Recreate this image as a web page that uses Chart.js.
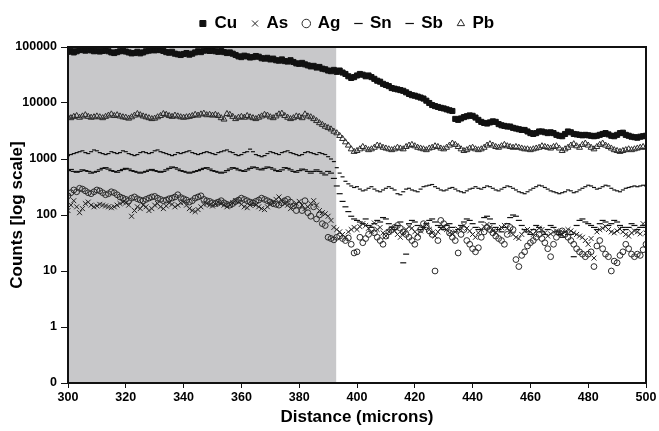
<!DOCTYPE html>
<html>
<head>
<meta charset="utf-8">
<script src="https://cdn.jsdelivr.net/npm/chart.js@4/dist/chart.umd.min.js"></script>
<style>
  html, body { margin: 0; padding: 0; background: #ffffff; }
  #wrap { width: 659px; height: 431px; position: relative; }
</style>
</head>
<body>
<div id="wrap"><canvas id="c" width="659" height="431"></canvas></div>
<script>
// ---------- DATA ----------
const DISTANCE = [
  300,301,302,303,304,305,306,307,308,309,
  310,311,312,313,314,315,316,317,318,319,
  320,321,322,323,324,325,326,327,328,329,
  330,331,332,333,334,335,336,337,338,339,
  340,341,342,343,344,345,346,347,348,349,
  350,351,352,353,354,355,356,357,358,359,
  360,361,362,363,364,365,366,367,368,369,
  370,371,372,373,374,375,376,377,378,379,
  380,381,382,383,384,385,386,387,388,389,
  390,391,392,393,394,395,396,397,398,399,
  400,401,402,403,404,405,406,407,408,409,
  410,411,412,413,414,415,416,417,418,419,
  420,421,422,423,424,425,426,427,428,429,
  430,431,432,433,434,435,436,437,438,439,
  440,441,442,443,444,445,446,447,448,449,
  450,451,452,453,454,455,456,457,458,459,
  460,461,462,463,464,465,466,467,468,469,
  470,471,472,473,474,475,476,477,478,479,
  480,481,482,483,484,485,486,487,488,489,
  490,491,492,493,494,495,496,497,498,499,
  500
];

const CU = [
  82000,85000,80000,84000,88000,90000,86000,91000,87000,84000,
  86000,83000,85000,88000,84000,80000,78000,81000,84000,86000,
  83000,80000,77000,78000,82000,77000,80000,84000,86000,89000,
  87000,90000,88000,85000,81000,79000,82000,76000,74000,72000,
  75000,78000,73000,76000,80000,84000,81000,86000,88000,85000,
  87000,84000,82000,85000,81000,78000,80000,76000,72000,68000,
  66000,70000,68000,65000,66000,69000,67000,63000,62000,64000,
  60000,62000,58000,57000,60000,56000,55000,58000,54000,51000,
  50000,52000,49000,47000,45000,46000,43000,44000,41000,40000,
  38000,37000,39000,36000,38000,35000,33000,30000,28000,29000,
  31000,33000,32000,30000,31000,29000,27000,25000,24000,22000,
  21000,20000,18500,18000,17500,17000,16500,15500,14500,13800,
  13500,13000,12500,12000,11000,10000,9200,8800,8500,8200,
  8000,7700,7400,7200,5200,5000,5300,5600,5800,6000,
  5900,5500,5000,4600,4400,4300,4500,4700,4600,4200,
  4000,3900,3800,3800,3600,3500,3400,3300,3300,3100,
  2900,2800,2900,3100,3100,3000,2900,3000,2900,2700,
  2600,2550,2800,3100,3000,2800,2750,2700,2650,2700,
  2650,2600,2550,2600,2700,2800,2900,2750,2600,2550,
  2700,2900,2950,2700,2600,2500,2450,2400,2500,2550,
  2600
];

const AS = [
  120,150,180,140,110,130,160,170,150,140,
  145,155,150,145,140,135,140,150,160,170,
  165,150,95,120,140,130,150,140,120,130,
  150,160,140,130,145,165,155,140,150,165,
  170,150,130,120,115,125,140,155,160,150,
  145,155,170,160,150,140,150,165,180,170,
  155,140,135,150,160,150,140,130,125,140,
  155,170,190,210,180,160,150,130,145,160,
  175,150,130,140,160,180,150,120,110,105,
  95,80,60,55,50,45,40,50,55,60,
  55,62,70,65,58,50,72,55,60,48,
  42,50,58,52,45,40,48,55,62,58,
  50,45,52,60,68,55,48,42,50,58,
  62,55,48,45,50,56,60,65,58,52,
  45,40,48,55,62,68,60,52,48,55,
  60,65,58,50,45,40,38,45,52,55,
  50,45,52,58,55,48,42,46,50,52,
  48,45,50,55,52,48,45,42,40,35,
  30,38,17,50,55,58,62,55,50,48,
  52,56,50,45,42,48,52,50,46,70,
  48
];

const AG = [
  220,250,280,260,300,290,270,250,240,260,
  280,270,250,230,240,260,250,230,210,200,
  190,180,200,210,195,185,180,190,200,210,
  215,200,190,180,185,195,200,210,230,205,
  195,185,170,180,200,210,220,190,180,175,
  165,160,170,180,165,155,150,160,175,185,
  200,190,180,170,165,175,185,200,190,180,
  170,160,155,150,165,180,190,170,145,120,
  150,120,180,110,95,140,85,100,70,65,
  40,38,36,40,42,38,35,39,30,21,
  22,40,32,38,45,55,48,40,35,30,
  42,50,55,60,65,58,50,45,40,35,
  30,40,55,70,62,52,45,10,35,80,
  70,60,48,40,35,21,45,55,35,30,
  25,22,26,40,50,60,55,48,42,38,
  35,30,45,60,55,16,12,19,22,28,
  32,35,40,45,38,32,25,18,30,40,
  48,52,45,40,35,30,25,22,20,18,
  20,22,12,28,35,25,20,18,10,15,
  14,19,22,30,25,20,18,20,19,24,
  30
];

const SN = [
  1150,1200,1250,1300,1350,1400,1300,1250,1350,1450,
  1400,1300,1250,1200,1250,1350,1300,1250,1300,1400,
  1350,1250,1200,1150,1200,1300,1350,1300,1250,1300,
  1400,1450,1350,1300,1250,1200,1150,1200,1300,1250,
  1300,1350,1400,1300,1250,1200,1250,1300,1350,1300,
  1250,1200,1300,1350,1400,1450,1350,1300,1200,1150,
  1200,1300,1350,1500,1350,1200,1150,1100,1150,1250,
  1350,1300,1250,1200,1300,1350,1400,1300,1250,1200,
  1150,1200,1300,1350,1300,1250,1200,1300,1250,1200,
  1100,1000,900,700,560,480,400,360,330,310,
  320,290,270,280,300,320,290,270,260,280,
  300,320,300,280,240,230,260,290,300,280,
  270,260,290,320,330,340,350,320,300,280,
  270,280,300,310,290,270,260,250,270,290,
  300,320,300,290,310,330,320,300,280,270,
  290,310,330,320,300,280,260,250,240,260,
  280,300,320,340,330,310,290,270,260,250,
  240,250,260,280,270,250,260,280,300,320,
  340,330,310,290,300,320,340,330,300,280,
  270,260,280,300,310,320,330,320,330,340,
  330
];

const SB = [
  620,650,600,580,600,640,620,600,560,580,
  600,640,680,700,660,620,600,580,620,650,
  680,660,620,600,580,560,580,600,630,650,
  620,600,580,600,640,680,720,700,660,620,
  600,580,560,580,600,620,650,680,700,660,
  620,600,580,560,580,620,660,700,680,640,
  620,600,640,680,720,700,660,640,680,720,
  700,660,620,600,640,700,680,640,600,580,
  620,660,640,600,560,600,640,600,560,520,
  600,560,450,330,240,175,140,115,95,85,
  80,75,70,85,65,60,70,80,75,90,
  85,70,60,55,65,75,14,20,70,80,
  75,65,55,60,70,80,85,75,65,60,
  55,65,70,60,50,55,65,75,85,80,
  70,60,55,75,90,95,85,70,60,55,
  50,60,70,90,100,95,80,65,55,50,
  45,55,65,60,50,45,55,65,60,50,
  45,40,50,45,45,18,65,80,85,75,
  70,65,60,55,70,80,75,65,70,80,
  75,65,60,55,60,70,65,55,60,65,
  60
];

const PB = [
  5600,5400,5700,5900,5500,5800,6100,5700,5500,5600,
  5800,5600,5400,5700,6000,6300,5900,6100,5800,5600,
  5500,5300,5600,6000,6400,6100,5800,5600,5400,5200,
  5300,5600,5900,6400,6200,5900,5700,6000,5800,5600,
  5500,5600,5700,5900,6200,6000,6300,6500,6100,6200,
  6000,6200,5900,5400,5100,6400,6200,5700,5200,5500,
  5700,5500,5900,5600,5400,5200,5500,5800,6200,6000,
  5600,5400,5800,6300,6500,5900,5500,5200,5400,5800,
  5700,5400,6300,5800,5600,5200,4800,4400,4100,3800,
  3600,3400,3100,2900,2600,2300,2000,1750,1500,1350,
  1400,1500,1650,1550,1450,1500,1600,1750,1700,1600,
  1550,1500,1450,1500,1600,1550,1500,1650,1750,1800,
  1700,1600,1550,1500,1450,1550,1600,1700,1650,1550,
  1500,1600,1750,1900,1800,1650,1500,1400,1450,1550,
  1600,1500,1450,1500,1600,1750,1850,1750,1650,1600,
  1700,1800,1700,1650,1600,1650,1600,1550,1500,1500,
  1450,1500,1550,1600,1700,1650,1600,1550,1650,1700,
  1550,1400,1500,1600,1750,1850,1700,1600,1800,1900,
  1750,1600,1500,1650,1800,1900,1750,1650,1550,1450,
  1400,1350,1400,1450,1500,1450,1500,1550,1600,1650,
  1600
];

const SERIES_NAMES = ['Cu', 'As', 'Ag', 'Sn', 'Sb', 'Pb'];
const Y_TICK_VALUES = [0.1, 1, 10, 100, 1000, 10000, 100000];
const Y_TICK_LABELS = ['0', '1', '10', '100', '1000', '10000', '100000'];
const X_MIN = 300, X_MAX = 500, X_STEP = 20;
const SHADE_START = 300, SHADE_END = 392.8;

// ---------- CHART ----------
const FONT = "'Liberation Sans', Arial, Helvetica, sans-serif";
const INK = '#111111';

function pts(values) {
  return DISTANCE.map((d, i) => ({ x: d, y: values[i] }));
}

const styles = {
  Cu: { pointStyle: 'rect', pointRadius: 3.6, backgroundColor: INK, borderColor: INK, borderWidth: 1 },
  As: { pointStyle: 'crossRot', pointRadius: 3.5, backgroundColor: 'transparent', borderColor: '#222', borderWidth: 1 },
  Ag: { pointStyle: 'circle', pointRadius: 2.9, backgroundColor: 'transparent', borderColor: '#2a2a2a', borderWidth: 1 },
  Sn: { pointStyle: 'line', pointRadius: 2, backgroundColor: INK, borderColor: INK, borderWidth: 1.2 },
  Sb: { pointStyle: 'line', pointRadius: 3, backgroundColor: INK, borderColor: INK, borderWidth: 1.2 },
  Pb: { pointStyle: 'triangle', pointRadius: 3.4, backgroundColor: 'transparent', borderColor: '#2a2a2a', borderWidth: 1 }
};

const seriesValues = { Cu: CU, As: AS, Ag: AG, Sn: SN, Sb: SB, Pb: PB };

const datasets = SERIES_NAMES.map(name => Object.assign({
  label: name,
  data: pts(seriesValues[name]),
  showLine: false,
  pointHoverRadius: 0
}, styles[name]));

const shadePlugin = {
  id: 'shade',
  beforeDatasetsDraw(chart) {
    const { ctx, chartArea, scales } = chart;
    const x0 = scales.x.getPixelForValue(SHADE_START);
    const x1 = scales.x.getPixelForValue(SHADE_END);
    ctx.save();
    ctx.fillStyle = '#c8c8ca';
    ctx.fillRect(x0, chartArea.top, x1 - x0, chartArea.bottom - chartArea.top);
    ctx.restore();
  }
};

const framePlugin = {
  id: 'frame',
  afterDatasetsDraw(chart) {
    const { ctx, chartArea } = chart;
    ctx.save();
    ctx.strokeStyle = '#111';
    ctx.lineWidth = 2;
    ctx.strokeRect(chartArea.left, chartArea.top, chartArea.right - chartArea.left, chartArea.bottom - chartArea.top);
    ctx.restore();
  }
};

const legendShift = {
  id: 'legendShift',
  afterLayout(chart) {
    const lg = chart.legend;
    if (!lg) return;
    const dx = 24, dy = -5;
    lg.left += dx; lg.right += dx;
    lg.top += dy; lg.bottom += dy;
  }
};

new Chart(document.getElementById('c'), {
  type: 'scatter',
  data: { datasets },
  plugins: [shadePlugin, framePlugin, legendShift],
  options: {
    responsive: false,
    animation: false,
    events: [],
    layout: { padding: { top: 5, right: 13, bottom: 0, left: 0 } },
    plugins: {
      tooltip: { enabled: false },
      legend: {
        display: true,
        position: 'top',
        labels: {
          usePointStyle: true,
          boxWidth: 6,
          boxHeight: 6,
          padding: 15,
          color: '#000',
          font: { family: FONT, size: 17, weight: 'bold' }
        }
      }
    },
    scales: {
      x: {
        type: 'linear',
        min: X_MIN,
        max: X_MAX,
        afterFit(scale) { scale.height = 48; },
        ticks: {
          stepSize: X_STEP,
          color: '#000',
          padding: 2,
          maxRotation: 0,
          font: { family: FONT, size: 12.5, weight: 'bold' }
        },
        grid: { drawOnChartArea: false, drawTicks: true, tickLength: 5, color: '#111', lineWidth: 1 },
        border: { display: false },
        title: {
          display: true,
          text: 'Distance (microns)',
          color: '#000',
          padding: { top: 0, bottom: 3 },
          font: { family: FONT, size: 17, weight: 'bold' }
        }
      },
      y: {
        type: 'logarithmic',
        min: 0.1,
        max: 100000,
        afterFit(scale) { scale.width = 68; },
        afterBuildTicks(scale) {
          scale.ticks = Y_TICK_VALUES.map(v => ({ value: v }));
        },
        ticks: {
          color: '#000',
          padding: 4,
          autoSkip: false,
          font: { family: FONT, size: 12.5, weight: 'bold' },
          callback(value) {
            const idx = Y_TICK_VALUES.findIndex(v => Math.abs(v - value) / v < 1e-6);
            return idx >= 0 ? Y_TICK_LABELS[idx] : '';
          }
        },
        grid: { drawOnChartArea: false, drawTicks: true, tickLength: 7, color: '#111', lineWidth: 1 },
        border: { display: false },
        title: {
          display: true,
          text: 'Counts [log scale]',
          color: '#000',
          padding: { top: 7, bottom: 0 },
          font: { family: FONT, size: 17, weight: 'bold' }
        }
      }
    }
  }
});
</script>
</body>
</html>
